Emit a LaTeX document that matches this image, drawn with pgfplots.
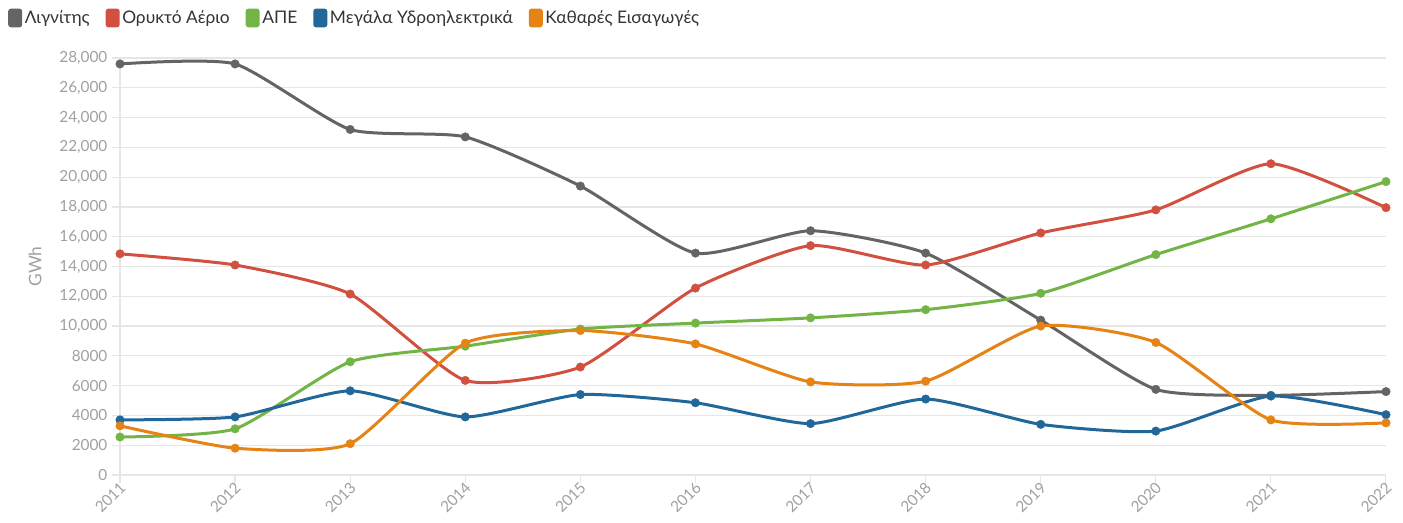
\documentclass[border=0pt]{standalone}
\usepackage{fontspec}
\setmainfont{Lato}
\usepackage{pgfplots}
\pgfplotsset{compat=1.18}
\definecolor{cLig}{RGB}{100,100,100}
\definecolor{cGas}{RGB}{210,80,64}
\definecolor{cRes}{RGB}{114,180,70}
\definecolor{cHyd}{RGB}{33,103,153}
\definecolor{cImp}{RGB}{229,131,20}
\definecolor{cGrid}{RGB}{230,230,230}
\definecolor{cTick}{RGB}{160,160,160}
\definecolor{cText}{RGB}{51,51,51}
\begin{document}
\begin{tikzpicture}
\path (-90pt,-36pt) rectangle (962.25pt,356.25pt);
\begin{axis}[
  scale only axis,
  width=949.5pt, height=312.75pt,
  xmin=2011, xmax=2022, ymin=0, ymax=28000,
  clip=false,
  axis x line*=bottom, axis y line*=left,
  axis line style={cGrid, line width=1pt},
  xtick={2011,...,2022},
  ytick={0,2000,...,28000},
  scaled y ticks=false,
  ymajorgrids, grid style={cGrid, line width=0.9pt},
  major tick length=6pt,
  tick align=outside,
  tick style={cGrid, line width=0.9pt},
  tick label style={font=\fontsize{11.5}{13}\selectfont, text=cTick},
  /pgf/number format/assume math mode=true,
  xticklabel style={rotate=45, anchor=east, xshift=4pt, yshift=-2.5pt, /pgf/number format/1000 sep={}},
  yticklabel style={/pgf/number format/1000 sep={,}, /pgf/number format/min exponent for 1000 sep=4},
  ylabel={GWh},
  ylabel style={at={(axis description cs:-0.067,0.5)}, anchor=center, font=\fontsize{13}{15}\selectfont, text=cTick},
  legend style={at={(axis description cs:-0.0885,1.096)}, anchor=west, draw=none, fill=none,
    legend columns=-1, font=\fontsize{13}{15}\selectfont, text=cText,
    /tikz/every even column/.append style={column sep=10pt}, inner sep=0pt},
  legend image code/.code={\fill[#1, draw=none, rounded corners=2pt] (0pt,-7pt) rectangle (10.5pt,7pt);},
]
\addplot[color=cLig, line width=2.25pt, smooth, tension=0.35, mark=*, mark size=3.2pt, mark options={solid, line width=0.3pt, fill=cLig, draw=cLig}] coordinates {(2011,27600)(2012,27600)(2013,23200)(2014,22700)(2015,19400)(2016,14900)(2017,16400)(2018,14900)(2019,10400)(2020,5750)(2021,5350)(2022,5600)};
\addlegendentry{Λιγνίτης}
\addplot[color=cGas, line width=2.25pt, smooth, tension=0.35, mark=*, mark size=3.2pt, mark options={solid, line width=0.3pt, fill=cGas, draw=cGas}] coordinates {(2011,14850)(2012,14100)(2013,12150)(2014,6350)(2015,7250)(2016,12550)(2017,15400)(2018,14100)(2019,16250)(2020,17800)(2021,20900)(2022,17950)};
\addlegendentry{Ορυκτό Αέριο}
\addplot[color=cRes, line width=2.25pt, smooth, tension=0.35, mark=*, mark size=3.2pt, mark options={solid, line width=0.3pt, fill=cRes, draw=cRes}] coordinates {(2011,2550)(2012,3100)(2013,7600)(2014,8650)(2015,9800)(2016,10200)(2017,10550)(2018,11100)(2019,12200)(2020,14800)(2021,17200)(2022,19700)};
\addlegendentry{ΑΠΕ}
\addplot[color=cHyd, line width=2.25pt, smooth, tension=0.35, mark=*, mark size=3.2pt, mark options={solid, line width=0.3pt, fill=cHyd, draw=cHyd}] coordinates {(2011,3700)(2012,3900)(2013,5650)(2014,3900)(2015,5400)(2016,4850)(2017,3450)(2018,5100)(2019,3400)(2020,2950)(2021,5300)(2022,4050)};
\addlegendentry{Μεγάλα Υδροηλεκτρικά}
\addplot[color=cImp, line width=2.25pt, smooth, tension=0.35, mark=*, mark size=3.2pt, mark options={solid, line width=0.3pt, fill=cImp, draw=cImp}] coordinates {(2011,3300)(2012,1800)(2013,2100)(2014,8850)(2015,9700)(2016,8800)(2017,6250)(2018,6300)(2019,10000)(2020,8900)(2021,3700)(2022,3500)};
\addlegendentry{Καθαρές Εισαγωγές}
\end{axis}
\end{tikzpicture}
\end{document}
